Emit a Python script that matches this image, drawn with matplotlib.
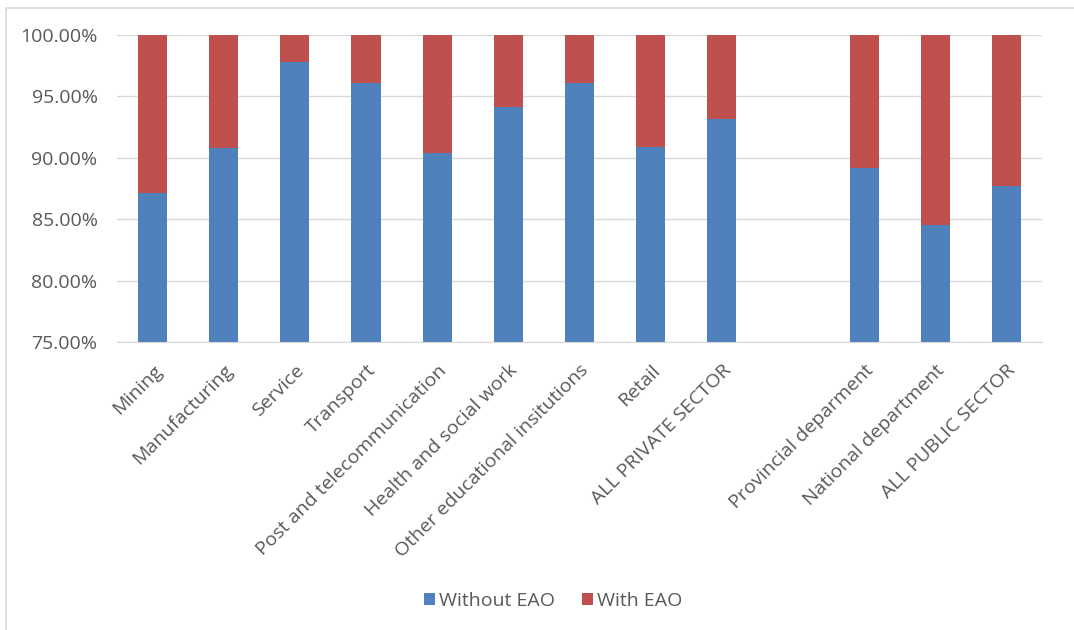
import matplotlib
matplotlib.use("Agg")
import matplotlib.pyplot as plt
from matplotlib.patches import Rectangle
from matplotlib.ticker import FuncFormatter
import numpy as np

plt.rcParams["font.family"] = ["Open Sans", "DejaVu Sans"]

categories = ["Mining", "Manufacturing", "Service", "Transport",
              "Post and telecommunication", "Health and social work",
              "Other educational insitutions", "Retail", "ALL PRIVATE SECTOR",
              "", "Provincial deparment", "National department", "ALL PUBLIC SECTOR"]
without_eao = [87.1, 90.8, 97.8, 96.1, 90.4, 94.1, 96.1, 90.9, 93.2,
               np.nan, 89.2, 84.5, 87.7]
with_eao = [100 - v for v in without_eao]

blue = "#4F81BD"
red = "#C0504D"
grey_txt = "#595959"

fig = plt.figure(figsize=(10.74, 6.3), dpi=100)
# chart area border (Excel style, clipped at right/bottom)
fig.patches.append(Rectangle((6 / 1074, -0.1), 1.2, 1 - 8 / 630 + 0.1,
                             transform=fig.transFigure, fill=False,
                             ec="#d9d9d9", lw=1.2))

ax = fig.add_axes([117 / 1074, 1 - 342 / 630, (1042 - 117) / 1074, (342 - 35) / 630])
x = np.arange(len(categories))
ax.bar(x, without_eao, width=0.41, color=blue, label="Without EAO", zorder=3)
ax.bar(x, with_eao, width=0.41, bottom=without_eao, color=red,
       label="With EAO", zorder=3)

ax.set_ylim(75, 100)
ax.set_xlim(-0.5, len(categories) - 0.5)
ax.set_yticks(np.arange(75, 100.1, 5))
ax.yaxis.set_major_formatter(FuncFormatter(lambda v, _: f"{v:.2f}%"))
ax.grid(axis="y", color="#d9d9d9", lw=1.0, zorder=0)
for s in ["top", "right", "left"]:
    ax.spines[s].set_visible(False)
ax.spines["bottom"].set_color("#d9d9d9")
ax.spines["bottom"].set_zorder(4)
ax.tick_params(axis="both", length=0, labelsize=14, labelcolor=grey_txt)
ax.tick_params(axis="y", pad=14)
ax.set_xticks(x)
ax.set_xticklabels(categories, rotation=45, ha="right", rotation_mode="anchor")
ax.tick_params(axis="x", pad=14)

ax.legend(loc="center", bbox_to_anchor=(553 / 1074, 1 - 601 / 630),
          bbox_transform=fig.transFigure, ncol=2, frameon=False,
          fontsize=14, handlelength=0.55, handleheight=0.55,
          columnspacing=1.4, handletextpad=0.2, labelcolor=grey_txt)

fig.savefig("out.png", dpi=100)
